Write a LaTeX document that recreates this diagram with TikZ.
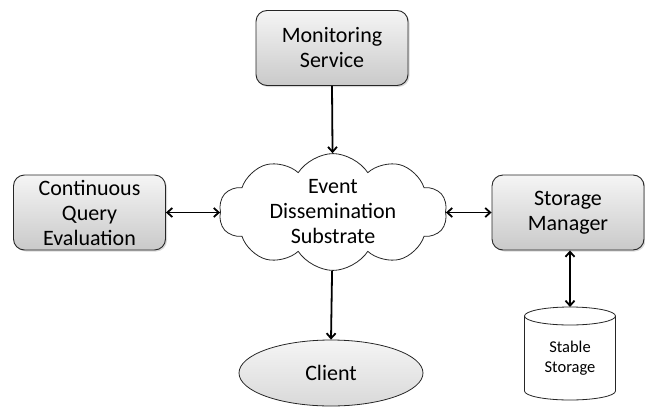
\documentclass[tikz,border=0pt]{standalone}
\usepackage{fontspec}
\setmainfont{Carlito}
\usetikzlibrary{shapes.geometric,shapes.symbols,arrows.meta,shadows}
\begin{document}
\begin{tikzpicture}[x=1pt,y=-1pt,
  box/.style={draw=black!85, line width=0.9pt, rounded corners=11pt, top color=gray!8, bottom color=gray!42,
     minimum width=152pt, minimum height=75pt, align=center, inner sep=0pt,
     font=\fontsize{22}{25}\selectfont,
     drop shadow={shadow xshift=1.5pt, shadow yshift=-1.5pt, opacity=0.3}},
  link/.style={line width=1.8pt, {Straight Barb[length=5pt,width=9pt]}-{Straight Barb[length=5pt,width=9pt]}},
  onelink/.style={line width=1.8pt, -{Straight Barb[length=5pt,width=9pt]}},
  cyl/.style={draw=black!85, line width=0.8pt}]
\useasboundingbox (0,0) rectangle (645,407);

\node[box] (mon) at (332,48) {Monitoring\\Service};
\node[box] (cqe) at (89.5,212.5) {Continuous\\Query\\Evaluation};
\node[box] (sm) at (568,212.5) {Storage\\Manager};

\node[cloud, cloud puffs=10, cloud puff arc=115, cloud ignores aspect,
      minimum width=228pt, minimum height=114pt, draw=black!85, line width=0.8pt, fill=white,
      align=center, inner sep=0pt, font=\fontsize{22}{25}\selectfont] (eds) at (333,212)
      {Event\\Dissemination\\Substrate};

\node[ellipse, draw=black!85, line width=0.8pt, top color=gray!8, bottom color=gray!30,
      minimum width=184pt, minimum height=66pt, inner sep=0pt,
      font=\fontsize{22}{25}\selectfont] (client) at (331,373) {Client};

% stable storage cylinder
\draw[cyl, fill=white]
  (524.5,316) -- (524.5,391) arc (180:360:45.5pt and 9pt) -- (615.5,316);
\draw[cyl] (570,316) ellipse (45.5pt and 9pt);
\coordinate (sstop) at (570,307);
\node[align=center, inner sep=0pt, font=\fontsize{16.5}{20}\selectfont] (ssl) at (570,358) {Stable\\Storage};

\draw[onelink] (mon.south) -- (eds);
\draw[link] (cqe.east) -- (cqe.east -| eds.west);
\draw[link] (sm.west) -- (sm.west -| eds.east);
\draw[onelink] (eds) -- (client.north);
\draw[link] (sm.south -| sstop) -- (sstop);
\end{tikzpicture}
\end{document}
